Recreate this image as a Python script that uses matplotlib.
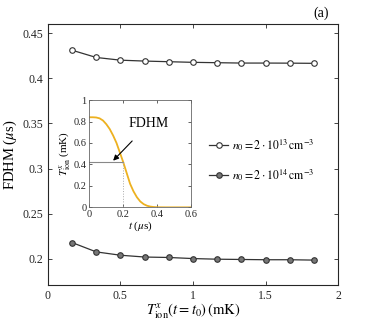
import matplotlib
matplotlib.use("Agg")
import matplotlib.pyplot as plt

# main panel: FDHM vs initial ion temperature
T0 = [0.167, 0.333, 0.5, 0.667, 0.833, 1.0, 1.167, 1.333, 1.5, 1.667, 1.833]
fdhm_13 = [0.431, 0.423, 0.420, 0.419, 0.4183, 0.4176, 0.4172, 0.4168, 0.4168, 0.4167, 0.4165]
fdhm_14 = [0.218, 0.2077, 0.204, 0.202, 0.2015, 0.2003, 0.1996, 0.1993, 0.199, 0.199, 0.1986]
labels = [r"$n_0 = 2\cdot 10^{13}\,\mathrm{cm}^{-3}$",
          r"$n_0 = 2\cdot 10^{14}\,\mathrm{cm}^{-3}$"]

# inset: temperature decay curve
t_in = [0, 0.02, 0.04, 0.06, 0.08, 0.10, 0.12, 0.14, 0.16, 0.18, 0.20, 0.22, 0.24,
        0.26, 0.28, 0.30, 0.32, 0.34, 0.36, 0.38, 0.40, 0.45, 0.50, 0.55, 0.60]
T_in = [0.84, 0.84, 0.838, 0.83, 0.81, 0.775, 0.73, 0.67, 0.60, 0.51, 0.42, 0.32, 0.22,
        0.15, 0.095, 0.055, 0.03, 0.015, 0.007, 0.003, 0.001, 0.0, 0.0, 0.0, 0.0]
half_t, half_T = 0.2, 0.42

plt.rcParams["font.family"] = ["Liberation Serif", "DejaVu Serif"]
plt.rcParams["mathtext.fontset"] = "stix"

fig = plt.figure(figsize=(3.74, 3.25), dpi=100)
ax = fig.add_axes([0.128, 0.123, 0.776, 0.803])

dark = "#333333"
ax.plot(T0, fdhm_13, "o-", color=dark, lw=0.9, ms=4, mfc="white", mec=dark, mew=0.8,
        label=labels[0])
ax.plot(T0, fdhm_14, "o-", color=dark, lw=0.9, ms=4, mfc="#777777", mec=dark, mew=0.8,
        label=labels[1])
ax.set_xlim(0, 2)
ax.set_ylim(0.171, 0.46)
ax.set_xticks([0, 0.5, 1, 1.5, 2])
ax.set_xticklabels(["0", "0.5", "1", "1.5", "2"])
ax.set_yticks([0.2, 0.25, 0.3, 0.35, 0.4, 0.45])
ax.set_yticklabels(["0.2", "0.25", "0.3", "0.35", "0.4", "0.45"])
ax.tick_params(direction="in", top=True, right=True, labelsize=8.5, length=3,
               width=0.6, colors="#262626")
for s in ax.spines.values():
    s.set_linewidth(0.8)
    s.set_color("#262626")
ax.set_xlabel(r"$T^x_{\mathrm{ion}}(t=t_0)\,(\mathrm{mK})$", fontsize=10.5, labelpad=0)
ax.set_ylabel(r"FDHM ($\mu$s)", fontsize=10.5, labelpad=2)
ax.legend(loc="center left", bbox_to_anchor=(0.52, 0.48), frameon=False, fontsize=8.5,
          handlelength=1.6, handletextpad=0.3, labelspacing=1.2)
ax.text(0.94, 1.015, "(a)", transform=ax.transAxes, fontsize=10, ha="center", va="bottom")

# inset
ins = fig.add_axes([0.239, 0.362, 0.272, 0.330])
ins.plot(t_in, T_in, color="#EDB120", lw=1.3)
ins.plot([0, half_t], [half_T, half_T], color="#888888", lw=0.8)
ins.plot([half_t, half_t], [0, half_T], color="#aaaaaa", lw=0.7, ls=":")
ins.annotate("FDHM", xy=(0.14, 0.435), xytext=(0.232, 0.78), fontsize=10,
             ha="left", va="center",
             arrowprops=dict(arrowstyle="-|>", color="black", lw=0.8,
                             shrinkA=8, shrinkB=0, mutation_scale=8))
ins.set_xlim(0, 0.6)
ins.set_ylim(0, 1)
ins.set_xticks([0, 0.2, 0.4, 0.6])
ins.set_xticklabels(["0", "0.2", "0.4", "0.6"])
ins.set_yticks([0, 0.2, 0.4, 0.6, 0.8, 1])
ins.set_yticklabels(["0", "0.2", "0.4", "0.6", "0.8", "1"])
ins.tick_params(direction="in", top=True, right=True, labelsize=7.5, length=2.5,
                width=0.5, colors="#262626", pad=2)
for s in ins.spines.values():
    s.set_linewidth(0.6)
    s.set_color("#666666")
ins.set_xlabel(r"$t$ ($\mu$s)", fontsize=8, labelpad=0)
ins.set_ylabel(r"$T^x_{\mathrm{ion}}$ (mK)", fontsize=8, labelpad=1)

fig.savefig("out.png", dpi=100)
